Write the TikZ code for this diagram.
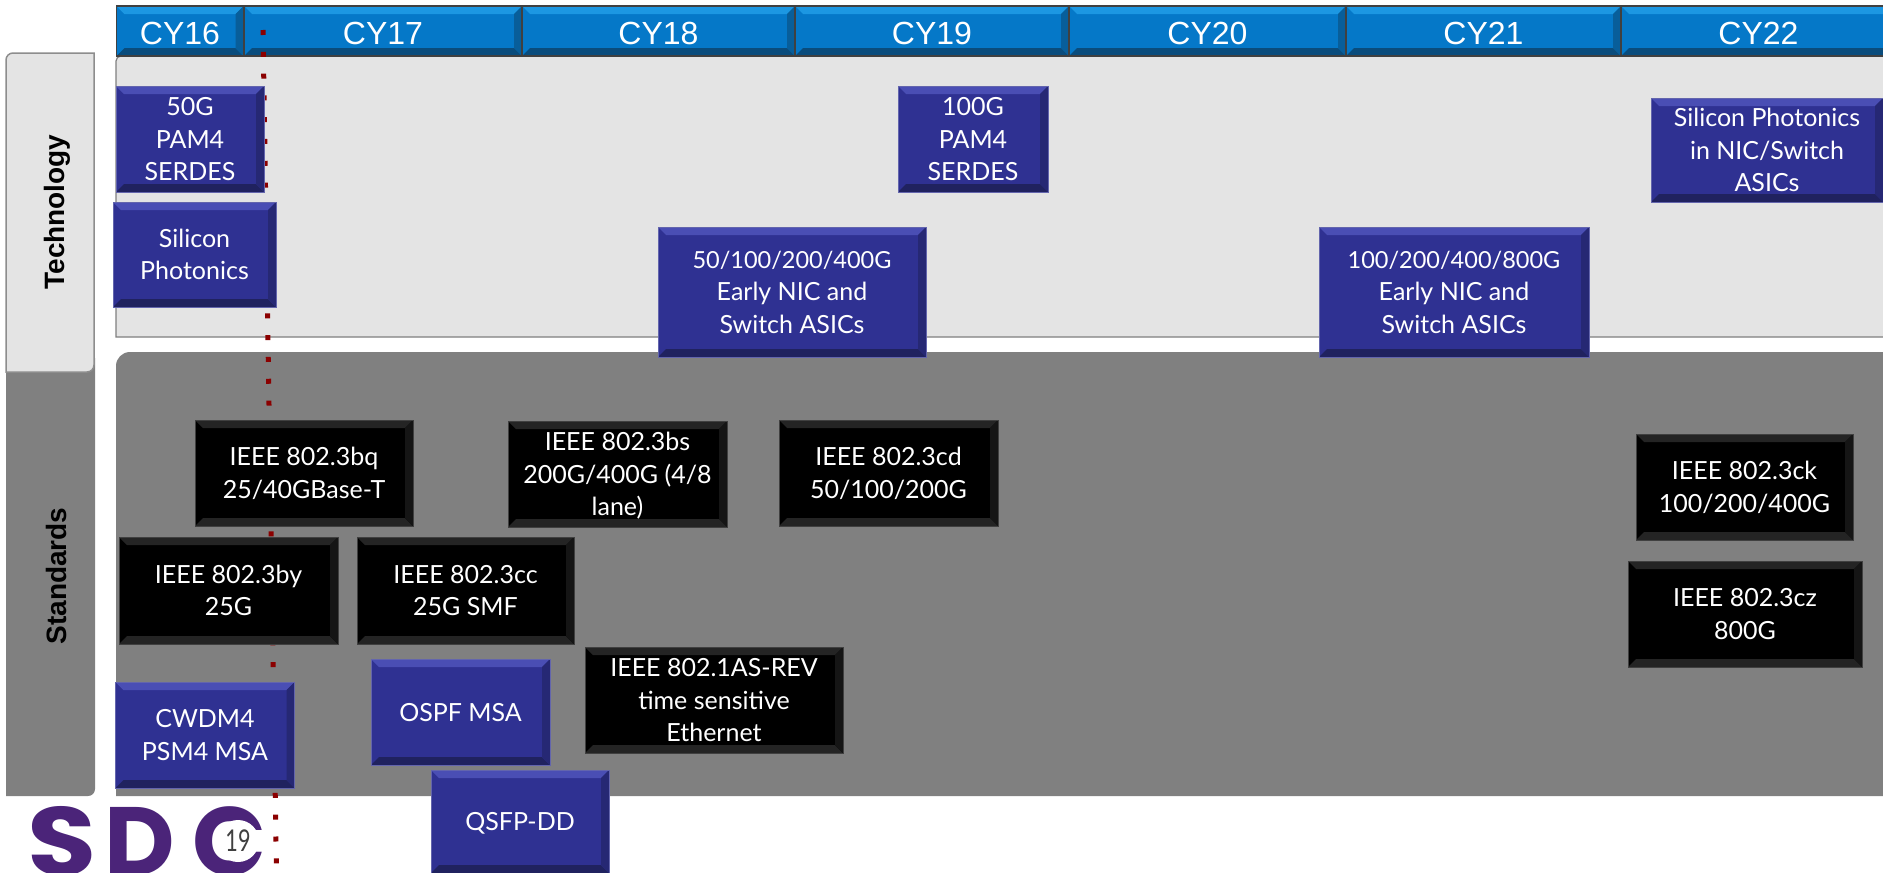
\documentclass[tikz,border=0pt]{standalone}
\usepackage{fontspec}
\setmainfont{Lato}
\newfontfamily\headfont{Liberation Sans}
\newfontfamily\logofont{Poppins}
\usetikzlibrary{calc}
\definecolor{sdnavy}{HTML}{2F3192}
\definecolor{sdnavytop}{HTML}{4A4EB4}
\definecolor{sdnavylow}{HTML}{20225F}
\definecolor{sdcyan}{HTML}{0578C8}
\definecolor{sdcyantop}{HTML}{1C97E2}
\definecolor{sdcyanlow}{HTML}{0A4C7C}
\definecolor{sdpanel}{HTML}{E4E4E4}
\definecolor{sdgrey}{HTML}{808080}
\definecolor{sddot}{HTML}{8B0000}
\definecolor{sdlogo}{HTML}{4B2479}
\newcommand{\narrowline}[1]{{\fontsize{23.5}{32.5}\selectfont #1}}
\begin{document}
\begin{tikzpicture}[
    x=1pt, y=-1pt,
    bevel/.style n args={3}{path picture={
      \fill[#1] (path picture bounding box.south west) rectangle (path picture bounding box.north east);
      \fill[#2] (path picture bounding box.north west) -- (path picture bounding box.north east)
        -- ($(path picture bounding box.north east)+(-8,8)$) -- ($(path picture bounding box.north west)+(8,8)$) -- cycle;
      \fill[#3] (path picture bounding box.south west) -- (path picture bounding box.south east)
        -- ($(path picture bounding box.south east)+(-8,-8)$) -- ($(path picture bounding box.south west)+(8,-8)$) -- cycle;
      \fill[#3!60!#1] (path picture bounding box.north east) -- (path picture bounding box.south east)
        -- ($(path picture bounding box.south east)+(-8,-8)$) -- ($(path picture bounding box.north east)+(-8,8)$) -- cycle;
    }},
    yearbox/.style={bevel={sdcyan}{sdcyantop}{sdcyanlow}, draw=black!75, line width=1.2pt, text=white, inner sep=0pt,
      font=\headfont\fontsize{32}{36}\selectfont, minimum height=50pt, text height=27pt, text depth=0pt},
    techbox/.style={bevel={sdnavy}{sdnavytop}{sdnavylow}, draw=sdnavy!75!white, line width=1pt, text=white, align=center,
      inner sep=0pt, text depth=0pt, font=\fontsize{25}{32.5}\selectfont},
    stdbox/.style={bevel={black}{black!86!white}{black!86!white}, draw=black!75!white, line width=1pt, text=white, align=center,
      inner sep=0pt, text depth=0pt, font=\fontsize{25}{32.5}\selectfont},
    sidelabel/.style={rotate=90, inner sep=0pt, font=\headfont\bfseries\fontsize{28}{32}\selectfont},
    logoletter/.style={text=sdlogo, inner sep=0pt, anchor=base, font=\logofont\bfseries\fontsize{97}{97}\selectfont},
    dotline/.style={draw=sddot, line width=5pt, dash pattern=on 5pt off 16.8pt}
  ]
    \useasboundingbox (0,0) rectangle (1883,873);
    \fill[white] (0,0) rectangle (1883,873);

    \fill[sdgrey] (6,358) -- (95,358) [rounded corners=7pt] -- (95,796) [sharp corners] -- (6,796) -- cycle;
    \draw[fill=sdpanel, draw=sdgrey!90!white, line width=1.5pt] (6,372) [rounded corners=7pt] -- (6,53) [sharp corners] -- (94,53) [rounded corners=7pt] -- (94,372) [sharp corners] -- (6,372) -- cycle;
    \draw[fill=sdpanel, draw=sdgrey, line width=1.2pt] (116,337) [rounded corners=5pt] -- (116,56) [sharp corners] -- (1890,56) -- (1890,337) -- cycle;
    \fill[sdgrey] (116,796) [rounded corners=14pt] -- (116,352) [sharp corners] -- (1900,352) -- (1900,796) -- cycle;

    \node[sidelabel] (technology) at (57,212) {Technology};
    \node[sidelabel] (standards) at (56,576) {Standards};

    \node[yearbox, minimum width=127pt] (cy16) at (180,31) {CY16};
    \node[yearbox, minimum width=278pt] (cy17) at (383,31) {CY17};
    \node[yearbox, minimum width=273pt] (cy18) at (658.5,31) {CY18};
    \node[yearbox, minimum width=274pt] (cy19) at (932,31) {CY19};
    \node[yearbox, minimum width=277pt] (cy20) at (1207.5,31) {CY20};
    \node[yearbox, minimum width=275pt] (cy21) at (1483.5,31) {CY21};
    \node[yearbox, minimum width=275pt] (cy22) at (1758.5,31) {CY22};

    \coordinate (dottop) at (263,30);
    \coordinate (dotend) at (276.5,873);
    \draw[dotline] (dottop) -- (dotend);

    \node[techbox, minimum width=148pt, minimum height=106pt] (pamfifty) at (190,139) {50G\\PAM4\\SERDES};
    \node[techbox, minimum width=163pt, minimum height=105pt] (photonics) at (194.5,254.5) {Silicon\\Photonics};
    \node[techbox, minimum width=150pt, minimum height=106pt] (pamhundred) at (973,139) {100G\\PAM4\\SERDES};
    \node[techbox, minimum width=268pt, minimum height=130pt] (earlyfour) at (792,292) {\narrowline{50/100/200/400G}\\Early NIC and\\Switch ASICs};
    \node[techbox, minimum width=270pt, minimum height=130pt] (earlyeight) at (1454,292) {\narrowline{100/200/400/800G}\\Early NIC and\\Switch ASICs};
    \node[techbox, minimum width=232pt, minimum height=104pt] (nicphotonics) at (1767,150) {Silicon Photonics\\in NIC/Switch\\ASICs};

    \node[stdbox, minimum width=218pt, minimum height=106pt] (bq) at (304,473) {IEEE 802.3bq\\25/40GBase-T};
    \node[stdbox, minimum width=219pt, minimum height=106pt] (bs) at (617.5,474) {IEEE 802.3bs\\200G/400G (4/8\\lane)};
    \node[stdbox, minimum width=219pt, minimum height=106pt] (cd) at (888.5,473) {IEEE 802.3cd\\50/100/200G};
    \node[stdbox, minimum width=217pt, minimum height=106pt] (ck) at (1744.5,487) {IEEE 802.3ck\\100/200/400G};
    \node[stdbox, minimum width=219pt, minimum height=107pt] (by) at (228.5,590.5) {IEEE 802.3by\\25G};
    \node[stdbox, minimum width=217pt, minimum height=107pt] (cc) at (465.5,590.5) {IEEE 802.3cc\\25G SMF};
    \node[stdbox, minimum width=234pt, minimum height=106pt] (cz) at (1745,614) {IEEE 802.3cz\\800G};
    \node[stdbox, minimum width=258pt, minimum height=106pt] (asrev) at (714,700) {IEEE 802.1AS-REV\\time sensitive\\Ethernet};

    \node[techbox, minimum width=179pt, minimum height=106pt] (cwdm) at (205,735) {CWDM4\\PSM4 MSA};
    \node[techbox, minimum width=179pt, minimum height=106pt] (ospf) at (460.5,712) {OSPF MSA};
    \node[techbox, minimum width=178pt, minimum height=103pt] (qsfp) at (520,821.5) {QSFP-DD};

    \node[logoletter, xscale=1.16] (logos) at (62,875) {S};
    \node[logoletter] (logod) at (140,875) {D};
    \node[logoletter] (logoc) at (229,875) {C};
    \node[circle, fill=white, inner sep=0pt, minimum size=42pt, text=black!75, font=\fontsize{30}{30}\selectfont] (logoyear) at (238,841) {\scalebox{.72}[1]{19}};
  \end{tikzpicture}
\end{document}
